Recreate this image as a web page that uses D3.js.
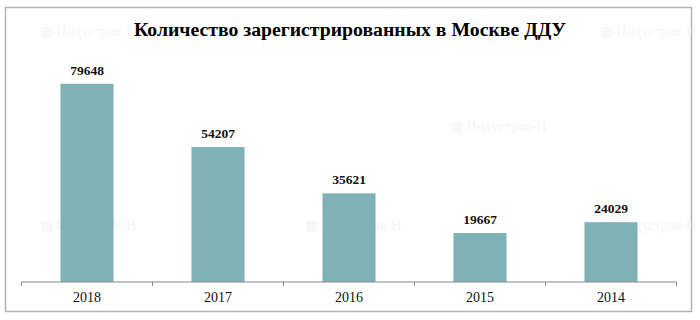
<!DOCTYPE html>
<html>
<head>
<meta charset="utf-8">
<script src="https://cdn.jsdelivr.net/npm/d3@7.9.0/dist/d3.min.js"></script>
<style>
  body { margin: 0; background: #fff; }
  svg { display: block; }
</style>
</head>
<body>
<div id="chart"></div>
<script>
const years = ["2018", "2017", "2016", "2015", "2014"];
const counts = [79648, 54207, 35621, 19667, 24029];
const title = "Количество зарегистрированных в Москве ДДУ";
const watermark = "Индустрия-Н";

const width = 700;
const height = 320;

const svg = d3.select("#chart")
  .append("svg")
  .attr("width", width)
  .attr("height", height);

// outer frame
svg.append("rect")
  .attr("x", 5.5)
  .attr("y", 7.5)
  .attr("width", 686)
  .attr("height", 304)
  .attr("fill", "#fff")
  .attr("stroke", "#b3b3b3")
  .attr("stroke-width", 1.5);

// faint watermarks (kept clear of the value labels)
const wm = [[40, 36], [600, 36], [450, 131], [40, 230], [305, 230], [600, 230]];
svg.append("g")
  .selectAll("text")
  .data(wm)
  .join("text")
  .attr("x", d => d[0])
  .attr("y", d => d[1])
  .attr("font-family", "Liberation Serif, serif")
  .attr("font-size", 14)
  .attr("fill", "#f6f6f6")
  .text("▦ " + watermark);

const margin = { top: 58, right: 23.5, bottom: 38, left: 21.5 };
const usable = {
  left: margin.left,
  right: width - margin.right,
  top: margin.top,
  bottom: height - margin.bottom
};

const x = d3.scaleBand()
  .domain(years)
  .range([usable.left, usable.right])
  .padding(0);

const y = d3.scaleLinear()
  .domain([0, 90000])
  .range([usable.bottom, usable.top]);

const barW = x.bandwidth() * 0.405;

svg.append("g")
  .selectAll("rect")
  .data(years)
  .join("rect")
  .attr("x", (d) => x(d) + x.bandwidth() / 2 - barW / 2)
  .attr("y", (d, i) => y(counts[i]))
  .attr("width", barW)
  .attr("height", (d, i) => y(0) - y(counts[i]))
  .attr("fill", "#7fb2b7");

svg.append("g")
  .selectAll("text")
  .data(years)
  .join("text")
  .attr("x", d => x(d) + x.bandwidth() / 2)
  .attr("y", (d, i) => y(counts[i]) - 9)
  .attr("text-anchor", "middle")
  .attr("font-family", "Liberation Serif, serif")
  .attr("font-weight", "bold")
  .attr("font-size", 13.5)
  .attr("fill", "#111")
  .text((d, i) => counts[i]);

// x axis with ticks at category boundaries
const axis = svg.append("g").attr("transform", `translate(0, ${usable.bottom})`);
axis.append("line")
  .attr("x1", usable.left)
  .attr("x2", usable.right)
  .attr("stroke", "#888");
const bounds = years.map(d => x(d)).concat([usable.right]);
axis.selectAll(".tk")
  .data(bounds)
  .join("line")
  .attr("class", "tk")
  .attr("x1", d => d)
  .attr("x2", d => d)
  .attr("y1", 0)
  .attr("y2", 4)
  .attr("stroke", "#888");
axis.selectAll(".lbl")
  .data(years)
  .join("text")
  .attr("class", "lbl")
  .attr("x", d => x(d) + x.bandwidth() / 2)
  .attr("y", 20)
  .attr("text-anchor", "middle")
  .attr("font-family", "Liberation Serif, serif")
  .attr("font-size", 14)
  .attr("fill", "#111")
  .text(d => d);

svg.append("text")
  .attr("x", 350)
  .attr("y", 36)
  .attr("text-anchor", "middle")
  .attr("font-family", "Liberation Serif, serif")
  .attr("font-weight", "bold")
  .attr("font-size", 18)
  .attr("textLength", 432)
  .attr("lengthAdjust", "spacingAndGlyphs")
  .attr("fill", "#000")
  .text(title);
</script>
</body>
</html>
